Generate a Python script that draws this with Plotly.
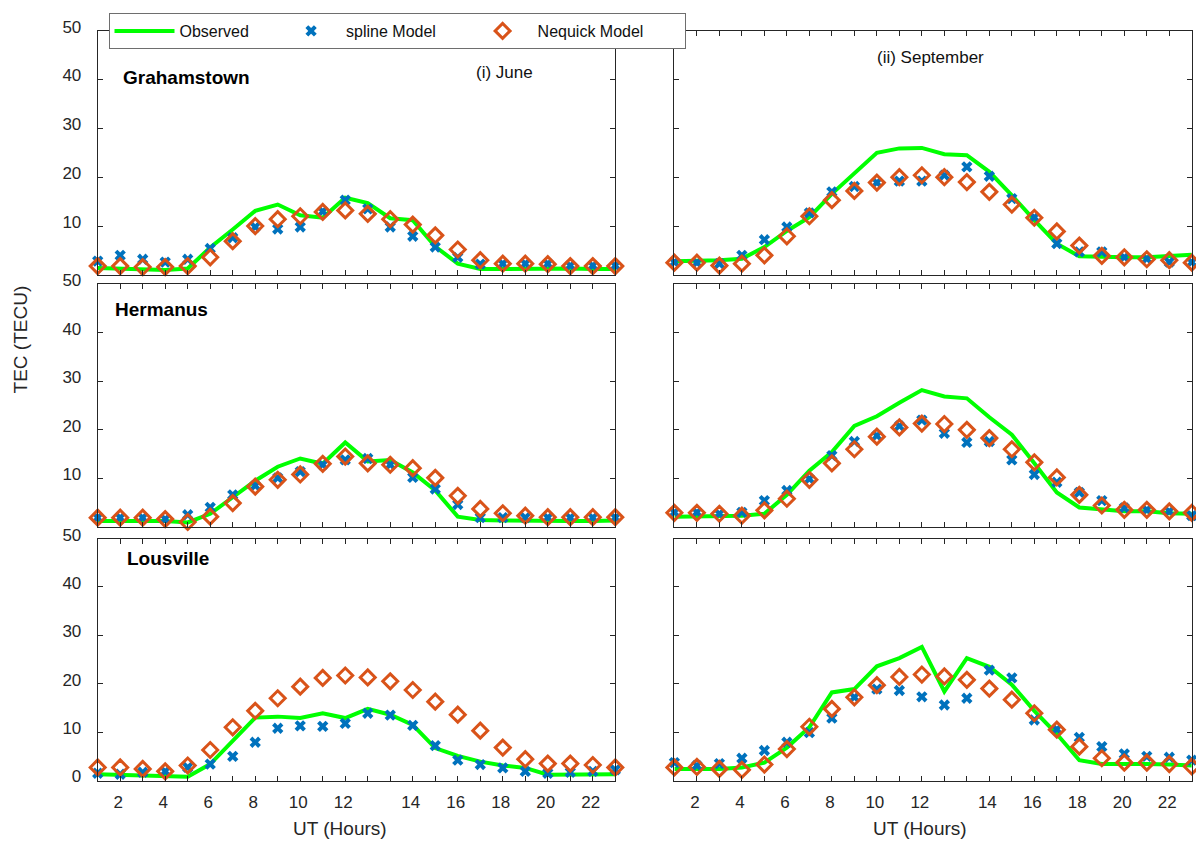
import plotly.graph_objects as go

# ---------------- data ----------------
hours = list(range(1, 25))

x_tickvals = list(range(1, 25))
x_ticktext = ["", "2", "", "4", "", "6", "", "8", "", "10", "", "12",
              "", "", "14", "", "16", "", "18", "", "20", "", "22", ""]
y_tickvals = [0, 10, 20, 30, 40, 50]
y_ticktext_full = ["0", "10", "20", "30", "40", "50"]
y_ticktext_nozero = ["", "10", "20", "30", "40", "50"]

# Grahamstown - June
obs_gr_jun = [1.4, 1.3, 1.2, 1.0, 1.3, 5.6, 9.3, 13.1, 14.4, 12.2, 11.7, 15.8,
              14.7, 11.6, 11.2, 5.8, 2.3, 1.2, 1.2, 1.3, 1.3, 1.3, 1.2, 1.2]
spl_gr_jun = [2.8, 4.0, 3.2, 2.6, 3.2, 5.4, 7.6, 9.8, 9.4, 9.8, 13.0, 15.3,
              13.5, 9.8, 7.9, 5.7, 3.6, 2.2, 2.3, 2.3, 2.3, 1.9, 1.9, 1.9]
neq_gr_jun = [1.8, 1.8, 1.6, 1.6, 1.8, 3.6, 6.9, 10.0, 11.4, 12.0, 12.9, 13.2,
              12.5, 11.4, 10.3, 8.1, 5.2, 3.0, 2.3, 2.3, 2.2, 1.8, 1.8, 1.8]

# Grahamstown - September
obs_gr_sep = [2.8, 2.8, 3.0, 3.3, 5.7, 9.0, 11.8, 16.6, 20.7, 25.0, 25.9, 26.0,
              24.7, 24.5, 21.1, 16.3, 11.2, 6.4, 3.8, 3.6, 3.6, 3.6, 3.9, 4.1]
spl_gr_sep = [2.6, 2.5, 2.3, 4.0, 7.2, 9.8, 12.7, 17.0, 18.1, 18.9, 19.2, 19.2,
              20.4, 22.1, 20.2, 15.6, 11.8, 6.4, 4.7, 4.7, 3.6, 3.3, 2.6, 2.6]
neq_gr_sep = [2.5, 2.5, 1.9, 2.3, 4.0, 7.9, 12.0, 15.3, 17.2, 18.9, 20.0, 20.4,
              20.0, 19.0, 17.0, 14.4, 11.7, 8.9, 6.0, 3.9, 3.6, 3.2, 3.0, 2.5]

# Hermanus - June
obs_he_jun = [1.2, 1.2, 1.2, 1.2, 0.9, 2.7, 6.1, 9.5, 12.4, 14.1, 13.0, 17.4,
              13.5, 13.8, 11.2, 7.5, 2.1, 1.4, 1.3, 1.2, 1.2, 1.2, 1.2, 1.3]
spl_he_jun = [1.9, 1.9, 1.9, 1.6, 2.5, 4.0, 6.6, 8.5, 10.1, 11.4, 12.8, 13.8,
              14.1, 12.8, 10.2, 7.8, 4.6, 1.9, 1.9, 1.9, 1.9, 1.9, 1.9, 1.9]
neq_he_jun = [1.9, 1.9, 1.9, 1.6, 1.0, 2.1, 4.9, 8.3, 9.7, 10.8, 13.0, 14.5,
              13.1, 12.8, 12.1, 10.1, 6.4, 3.7, 2.8, 2.3, 2.0, 2.0, 2.0, 2.0]

# Hermanus - September
obs_he_sep = [2.1, 2.1, 2.3, 2.3, 2.7, 6.6, 11.6, 15.4, 20.8, 22.8, 25.6, 28.2,
              26.9, 26.5, 22.6, 19.0, 13.1, 7.1, 4.0, 3.5, 3.2, 3.2, 2.8, 2.7]
spl_he_sep = [3.0, 3.0, 2.7, 3.0, 5.4, 7.5, 9.9, 14.7, 17.6, 18.8, 20.8, 22.0,
              19.3, 17.4, 17.6, 13.8, 10.8, 9.2, 7.1, 5.4, 3.9, 3.5, 3.2, 2.3]
neq_he_sep = [2.9, 2.9, 2.7, 2.3, 3.4, 5.8, 9.7, 13.1, 16.0, 18.6, 20.5, 21.3,
              21.2, 20.0, 18.3, 16.0, 13.3, 10.2, 6.6, 4.4, 3.5, 3.5, 3.2, 2.9]

# Lousville - June
obs_lo_jun = [1.3, 1.2, 1.0, 0.85, 0.8, 3.4, 8.2, 13.0, 13.2, 12.9, 13.9, 12.9,
              14.8, 13.6, 11.5, 6.7, 5.1, 3.9, 3.1, 2.6, 1.2, 1.2, 1.2, 1.3]
spl_lo_jun = [1.5, 1.3, 1.7, 1.9, 2.7, 3.4, 5.0, 7.9, 10.8, 11.3, 11.2, 11.8,
              13.9, 13.5, 11.4, 7.2, 4.2, 3.3, 2.6, 1.9, 1.5, 1.7, 1.9, 2.2]
neq_lo_jun = [2.7, 2.7, 2.4, 1.9, 3.1, 6.3, 11.0, 14.4, 17.0, 19.4, 21.2, 21.7,
              21.3, 20.5, 18.7, 16.3, 13.6, 10.3, 6.8, 4.4, 3.5, 3.5, 3.2, 2.7]

# Lousville - September
obs_lo_sep = [2.4, 2.4, 2.4, 2.7, 3.7, 6.8, 11.0, 18.2, 18.9, 23.6, 25.3, 27.6,
              18.4, 25.3, 23.5, 19.8, 14.4, 9.6, 4.2, 3.4, 3.5, 3.4, 3.3, 3.1]
spl_lo_sep = [3.7, 3.1, 3.5, 4.6, 6.2, 7.9, 9.9, 12.9, 17.2, 18.9, 18.6, 17.3,
              15.6, 17.0, 22.8, 21.2, 12.5, 10.6, 8.9, 7.0, 5.5, 5.0, 4.8, 4.2]
neq_lo_sep = [2.7, 2.8, 2.4, 2.2, 3.3, 6.5, 11.1, 14.8, 17.2, 19.7, 21.4, 21.9,
              21.5, 20.8, 19.0, 16.7, 13.9, 10.5, 7.0, 4.6, 3.7, 3.7, 3.4, 2.9]

stations = ["Grahamstown", "Hermanus", "Lousville"]
months = ["(i) June", "(ii) September"]
series_names = ["Observed", "spline Model", "Nequick Model"]
panels = [
    [(obs_gr_jun, spl_gr_jun, neq_gr_jun), (obs_gr_sep, spl_gr_sep, neq_gr_sep)],
    [(obs_he_jun, spl_he_jun, neq_he_jun), (obs_he_sep, spl_he_sep, neq_he_sep)],
    [(obs_lo_jun, spl_lo_jun, neq_lo_jun), (obs_lo_sep, spl_lo_sep, neq_lo_sep)],
]

# ---------------- style ----------------
W, H = 1196, 850
Y_OFF, Y_SCALE = 12.8, 0.977
FONT = "Liberation Sans, Arial, Helvetica, sans-serif"
AX = "#262626"
GREEN = "#00FF00"
BLUE = "#0072BD"
ORANGE = "#D95319"
NB = "\u00a0"
legend_pad = [5, 6, 8]  # spacing after each legend label (non-breaking spaces)

def px_x(p):
    return p / W

def px_y(p):
    f = (p - Y_OFF) / Y_SCALE
    return 1 - f / H

x_domains = [[px_x(97.7), px_x(615.3)], [px_x(674.4), px_x(1191.8)]]
y_domains = [[px_y(274.5), px_y(30.5)], [px_y(526.3), px_y(284)], [px_y(779.8), px_y(538)]]

fig = go.Figure()
layout = dict(
    width=W, height=H,
    margin=dict(l=0, r=0, t=0, b=0),
    paper_bgcolor="white", plot_bgcolor="white",
    font=dict(family=FONT, color=AX, size=17),
    showlegend=True,
    legend=dict(
        orientation="h", x=px_x(108.5), y=min(1.0, px_y(8.5)), xanchor="left", yanchor="top",
        bgcolor="white", bordercolor="#6e6e6e", borderwidth=1,
        font=dict(family=FONT, size=16, color="#111111"),
        itemwidth=60,
    ),
)

annotations = []
for r in range(3):
    for c in range(2):
        k = r * 2 + c + 1
        xa = "x" if k == 1 else f"x{k}"
        ya = "y" if k == 1 else f"y{k}"
        obs, spl, neq = panels[r][c]
        first = (k == 1)
        names = [n + NB * p for n, p in zip(series_names, legend_pad)]
        fig.add_trace(go.Scatter(
            x=hours, y=obs, mode="lines", name=names[0],
            line=dict(color=GREEN, width=4), xaxis=xa, yaxis=ya,
            showlegend=first, cliponaxis=False))
        fig.add_trace(go.Scatter(
            x=hours, y=spl, mode="markers", name=names[1],
            marker=dict(symbol="x", size=10, color=BLUE, line=dict(width=0)),
            xaxis=xa, yaxis=ya, showlegend=first, cliponaxis=False))
        fig.add_trace(go.Scatter(
            x=hours, y=neq, mode="markers", name=names[2],
            marker=dict(symbol="diamond-open", size=11.5, color=ORANGE,
                        line=dict(width=3, color=ORANGE)),
            xaxis=xa, yaxis=ya, showlegend=first, cliponaxis=False))

        xkey = "xaxis" if k == 1 else f"xaxis{k}"
        ykey = "yaxis" if k == 1 else f"yaxis{k}"
        layout[xkey] = dict(
            domain=x_domains[c], range=[1, 24], anchor=ya,
            tickmode="array", tickvals=x_tickvals, ticktext=x_ticktext,
            showticklabels=(r == 2), ticks="inside", ticklen=5, tickcolor=AX,
            showline=True, linecolor=AX, linewidth=1, mirror="ticks",
            showgrid=False, zeroline=False, fixedrange=True,
            tickfont=dict(family=FONT, size=17, color=AX),
            ticklabelshift=-2, ticklabelstandoff=6,
        )
        layout[ykey] = dict(
            domain=y_domains[r], range=[0, 50], anchor=xa,
            tickmode="array", tickvals=y_tickvals,
            ticktext=(y_ticktext_full if r == 2 else y_ticktext_nozero),
            showticklabels=(c == 0), ticks="inside", ticklen=5, tickcolor=AX,
            showline=True, linecolor=AX, linewidth=1, mirror="ticks",
            showgrid=False, zeroline=False, fixedrange=True,
            tickfont=dict(family=FONT, size=17, color=AX),
            ticklabelshift=-4, ticklabelstandoff=12,
        )

# station names
station_pos = [(121, 77), (113, 309), (125, 558)]
for name, (sx, sy) in zip(stations, station_pos):
    annotations.append(dict(
        text=f"<b>{name}</b>", x=px_x(sx), y=px_y(sy), xref="paper", yref="paper",
        xanchor="left", yanchor="middle", showarrow=False,
        font=dict(family=FONT, size=19, color="black")))

# month labels
month_pos = [(504, 72), (930, 57)]
for m, (mx, my) in zip(months, month_pos):
    annotations.append(dict(
        text=m, x=px_x(mx), y=px_y(my), xref="paper", yref="paper",
        xanchor="center", yanchor="middle", showarrow=False,
        font=dict(family=FONT, size=17, color="#111111")))

# axis titles
for tx in (340, 920):
    annotations.append(dict(
        text="UT (Hours)", x=px_x(tx), y=px_y(828), xref="paper", yref="paper",
        xanchor="center", yanchor="middle", showarrow=False,
        font=dict(family=FONT, size=19, color=AX)))
annotations.append(dict(
    text="TEC (TECU)", x=px_x(20), y=px_y(339), xref="paper", yref="paper",
    xanchor="center", yanchor="middle", showarrow=False, textangle=-90,
    font=dict(family=FONT, size=19, color=AX)))

layout["annotations"] = annotations
fig.update_layout(**layout)

post = (
    "var gd=document.getElementById('{plot_id}');"
    "gd.style.position='fixed';gd.style.top='0px';gd.style.left='0px';"
    "document.body.style.margin='0px';"
    "document.documentElement.style.overflow='hidden';"
    "document.body.style.overflow='hidden';"
)

fig.write_html("out.html", config={"displayModeBar": False}, post_script=post)
